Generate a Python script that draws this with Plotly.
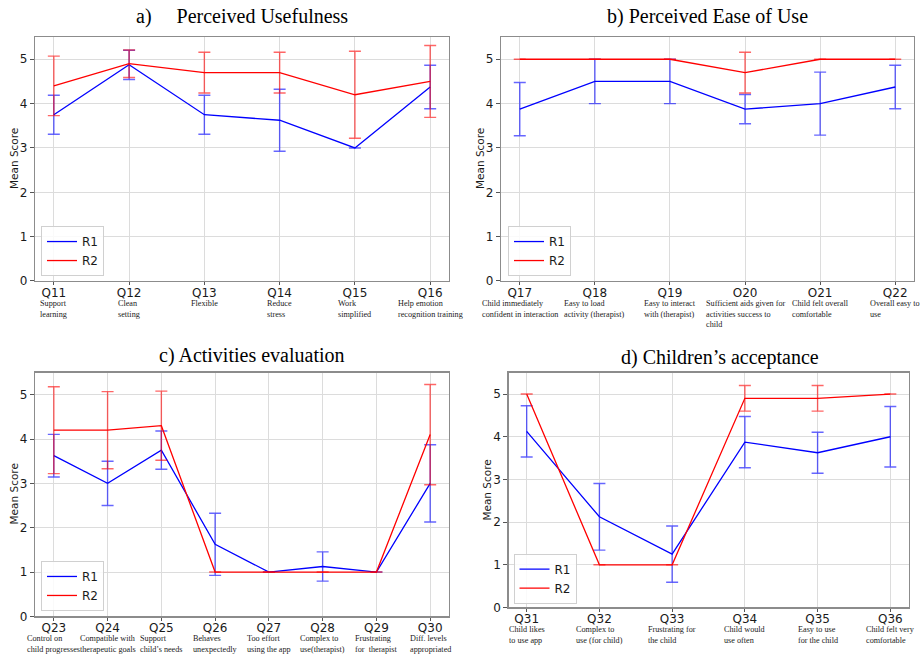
import plotly.graph_objects as go

# ---------------- data ----------------
# a) Perceived Usefulness
cats_a = ["Q11", "Q12", "Q13", "Q14", "Q15", "Q16"]
desc_a = ["Support<br>learning", "Clean<br>setting", "Flexible", "Reduce<br>stress",
          "Work<br>simplified", "Help emotion<br>recognition training"]
r1_a = [3.75, 4.875, 3.75, 3.625, 3.0, 4.375]
r1_err_a = [0.44, 0.33, 0.44, 0.70, 0.0, 0.49]
r2_a = [4.4, 4.9, 4.7, 4.7, 4.2, 4.5]
r2_err_a = [0.67, 0.31, 0.46, 0.46, 0.98, 0.81]

# b) Perceived Ease of Use
cats_b = ["Q17", "Q18", "Q19", "O20", "O21", "Q22"]
desc_b = ["Child immediately<br>confident in interaction", "Easy to load<br>activity (therapist)",
          "Easy to interact<br>with (therapist)",
          "Sufficient aids given for<br>activities success to<br>child",
          "Child felt overall<br>comfortable", "Overall easy to<br>use"]
r1_b = [3.875, 4.5, 4.5, 3.875, 4.0, 4.375]
r1_err_b = [0.60, 0.50, 0.50, 0.33, 0.71, 0.49]
r2_b = [5.0, 5.0, 5.0, 4.7, 5.0, 5.0]
r2_err_b = [0.0, 0.0, 0.0, 0.46, 0.0, 0.0]

# c) Activities evaluation
cats_c = ["Q23", "Q24", "Q25", "Q26", "Q27", "Q28", "Q29", "Q30"]
desc_c = ["Control on<br>child progresses", "Compatible with<br>therapeutic goals",
          "Support<br>child’s needs", "Behaves<br>unexpectedly", "Too effort<br>using the app",
          "Complex to<br>use(therapist)", "Frustrating<br>for  therapist",
          "Diff. levels<br>appropriated"]
r1_c = [3.625, 3.0, 3.75, 1.625, 1.0, 1.125, 1.0, 3.0]
r1_err_c = [0.48, 0.50, 0.43, 0.70, 0.0, 0.33, 0.0, 0.87]
r2_c = [4.2, 4.2, 4.3, 1.0, 1.0, 1.0, 1.0, 4.1]
r2_err_c = [0.98, 0.87, 0.78, 0.0, 0.0, 0.0, 0.0, 1.13]

# d) Children's acceptance
cats_d = ["Q31", "Q32", "Q33", "Q34", "Q35", "Q36"]
desc_d = ["Child likes<br>to use app", "Complex to<br>use (for child)", "Frustrating for<br>the child",
          "Child would<br>use often", "Easy to use<br>for the child", "Child felt very<br>comfortable"]
r1_d = [4.125, 2.125, 1.25, 3.875, 3.625, 4.0]
r1_err_d = [0.60, 0.78, 0.66, 0.60, 0.48, 0.71]
r2_d = [5.0, 1.0, 1.0, 4.9, 4.9, 5.0]
r2_err_d = [0.0, 0.0, 0.0, 0.30, 0.30, 0.0]

titles = ["a)\u00a0\u00a0\u00a0\u00a0 Perceived Usefulness", "b) Perceived Ease of Use",
          "c) Activities evaluation", "d) Children’s acceptance"]

# ---------------- layout geometry (pixels in 920x661 page) ----------------
W, H = 920, 661
panels = [
    # x0, x1, ytop, ybottom (pixels)
    (35, 449, 37.5, 284),
    (501, 914, 37.5, 284),
    (35, 449, 376.5, 623),
    (508.5, 908.5, 376.7, 614),
]
legend_pos = [(41, 279), (508, 279), (41, 617.5), (513.5, 610)]
title_pos = [(242, 17), (707, 17), (252, 359), (720, 361)]

data = [
    (cats_a, desc_a, r1_a, r1_err_a, r2_a, r2_err_a),
    (cats_b, desc_b, r1_b, r1_err_b, r2_b, r2_err_b),
    (cats_c, desc_c, r1_c, r1_err_c, r2_c, r2_err_c),
    (cats_d, desc_d, r1_d, r1_err_d, r2_d, r2_err_d),
]

BLUE = "rgb(0,0,255)"
RED = "rgb(255,0,0)"
BLUE_E = "rgba(0,0,255,0.6)"
RED_E = "rgba(255,0,0,0.6)"

fig = go.Figure()
layout = dict(
    width=W, height=H, margin=dict(l=0, r=0, t=0, b=0),
    paper_bgcolor="white", plot_bgcolor="white",
    font=dict(family="DejaVu Sans", color="#1a1a1a"),
    annotations=[], hovermode=False,
)

for i, (cats, desc, r1, e1, r2, e2) in enumerate(data):
    n = i + 1
    xa = "x" if n == 1 else f"x{n}"
    ya = "y" if n == 1 else f"y{n}"
    lg = "legend" if n == 1 else f"legend{n}"
    x0, x1, yt, yb = panels[i]
    fig.add_trace(go.Scatter(
        x=cats, y=r1, name="R1", mode="lines", xaxis=xa, yaxis=ya, legend=lg,
        line=dict(color=BLUE, width=1.3),
        error_y=dict(type="data", array=e1, visible=True, color=BLUE_E, thickness=1.4, width=6),
    ))
    fig.add_trace(go.Scatter(
        x=cats, y=r2, name="R2", mode="lines", xaxis=xa, yaxis=ya, legend=lg,
        line=dict(color=RED, width=1.3),
        error_y=dict(type="data", array=e2, visible=True, color=RED_E, thickness=1.4, width=6),
    ))
    pad = 0.05 * (len(cats) - 1)
    axkey = "xaxis" if n == 1 else f"xaxis{n}"
    aykey = "yaxis" if n == 1 else f"yaxis{n}"
    layout[axkey] = dict(
        domain=[x0 / W, x1 / W], anchor=ya, type="category",
        range=[-pad, len(cats) - 1 + pad],
        showgrid=True, gridcolor="#dcdcdc", gridwidth=1,
        showline=True, mirror=True, linecolor="#8c8c8c", linewidth=1.3,
        ticks="outside", ticklen=3, tickcolor="#555", tickwidth=1,
        ticklabelstandoff=-3,
        tickfont=dict(family="DejaVu Sans", size=12, color="#1a1a1a"),
        zeroline=False, fixedrange=True,
    )
    layout[aykey] = dict(
        domain=[1 - yb / H, 1 - yt / H], anchor=xa,
        range=[0, 5.5], dtick=1, tick0=0,
        showgrid=True, gridcolor="#dcdcdc", gridwidth=1,
        showline=True, mirror=True, linecolor="#8c8c8c", linewidth=1.3,
        ticks="outside", ticklen=4, tickcolor="#555", tickwidth=1,
        tickfont=dict(family="DejaVu Sans", size=12, color="#1a1a1a"),
        zeroline=False, fixedrange=True,
    )
    lx, ly = legend_pos[i]
    layout[lg] = dict(
        x=lx / W, y=1 - ly / H, xanchor="left", yanchor="bottom",
        bgcolor="rgba(255,255,255,0.85)", bordercolor="#d0d0d0", borderwidth=1,
        font=dict(family="DejaVu Sans", size=12, color="#1a1a1a"),
        itemwidth=30, tracegroupgap=0,
    )
    # title
    tx, ty = title_pos[i]
    layout["annotations"].append(dict(
        text=titles[i], xref="paper", yref="paper", x=tx / W, y=1 - ty / H,
        xanchor="center", yanchor="middle", showarrow=False,
        font=dict(family="Liberation Serif", size=20, color="black"),
    ))
    # y-axis title
    layout["annotations"].append(dict(
        text="Mean Score", xref="paper", yref="paper", x=(x0 - 21) / W,
        y=1 - (yt + yb) / 2 / H, xanchor="center", yanchor="middle", textangle=-90,
        showarrow=False, font=dict(family="DejaVu Sans", size=10.5, color="#1a1a1a"),
    ))
    # category descriptions
    for c, d in zip(cats, desc):
        layout["annotations"].append(dict(
            text=d, xref=xa, yref="paper", x=c, y=1 - (yb + 17) / H,
            xanchor="center", yanchor="top", align="left", showarrow=False,
            borderpad=0,
            font=dict(family="Liberation Serif", size=8.2, color="#1a1a1a"),
        ))

fig.update_layout(**layout)
fig.write_html(
    "out.html",
    config=dict(displayModeBar=False, staticPlot=True),
    post_script="document.body.style.margin='0';document.body.style.overflow='hidden';",
)
